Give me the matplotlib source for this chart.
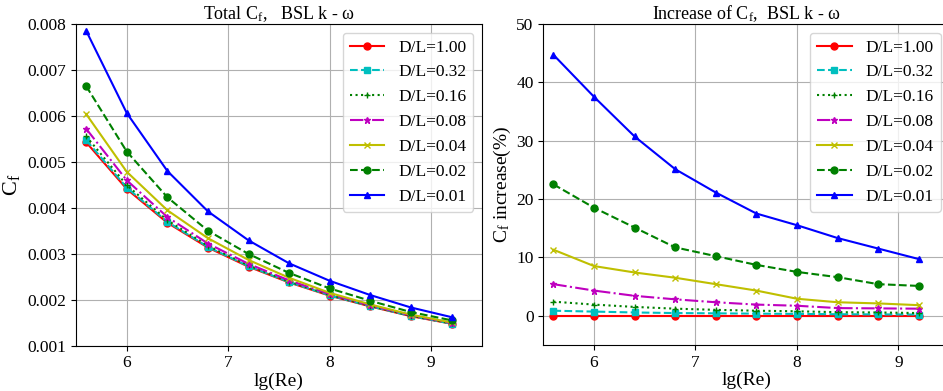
import matplotlib
matplotlib.use('Agg')
import matplotlib.pyplot as plt

plt.rcParams['font.family'] = ['Liberation Serif', 'DejaVu Serif']
plt.rcParams['mathtext.default'] = 'regular'

lg_re = [5.6, 6.0, 6.4, 6.8, 7.2, 7.6, 8.0, 8.4, 8.8, 9.2]
labels = ['D/L=1.00', 'D/L=0.32', 'D/L=0.16', 'D/L=0.08', 'D/L=0.04', 'D/L=0.02', 'D/L=0.01']

# total Cf, BSL k-omega
cf_100 = [0.005425, 0.004407, 0.003673, 0.003133, 0.002717, 0.002374, 0.002087, 0.001853, 0.001641, 0.001477]
cf_032 = [0.005471, 0.004438, 0.003693, 0.003147, 0.002728, 0.002382, 0.002093, 0.001858, 0.001645, 0.001480]
cf_016 = [0.005555, 0.004491, 0.003728, 0.003171, 0.002744, 0.002394, 0.002103, 0.001864, 0.001650, 0.001484]
cf_008 = [0.005718, 0.004597, 0.003798, 0.003221, 0.002779, 0.002419, 0.002122, 0.001877, 0.001662, 0.001495]
cf_004 = [0.006038, 0.004782, 0.003945, 0.003337, 0.002864, 0.002476, 0.002148, 0.001896, 0.001675, 0.001504]
cf_002 = [0.006646, 0.005222, 0.004228, 0.003500, 0.002994, 0.002581, 0.002244, 0.001975, 0.001730, 0.001552]
cf_001 = [0.00785, 0.00606, 0.00480, 0.00392, 0.00329, 0.00279, 0.00241, 0.00210, 0.00183, 0.00162]

# increase of Cf (%)
inc_100 = [0, 0, 0, 0, 0, 0, 0, 0, 0, 0]
inc_032 = [0.85, 0.7, 0.55, 0.45, 0.4, 0.35, 0.3, 0.25, 0.22, 0.2]
inc_016 = [2.4, 1.9, 1.5, 1.2, 1.0, 0.85, 0.75, 0.6, 0.55, 0.45]
inc_008 = [5.4, 4.3, 3.4, 2.8, 2.3, 1.9, 1.7, 1.3, 1.25, 1.2]
inc_004 = [11.3, 8.5, 7.4, 6.5, 5.4, 4.3, 2.9, 2.3, 2.1, 1.8]
inc_002 = [22.5, 18.5, 15.1, 11.7, 10.2, 8.7, 7.5, 6.6, 5.4, 5.1]
inc_001 = [44.7, 37.5, 30.7, 25.1, 21.1, 17.5, 15.5, 13.3, 11.5, 9.7]

styles = [('r', '-', 'o'), ('c', '--', 's'), ('g', ':', '+'), ('m', '-.', '*'),
          ('y', '-', 'x'), ('g', '--', 'o'), ('b', '-', '^')]

fig = plt.figure(figsize=(9.43, 3.91), dpi=100)
ax1 = fig.add_axes([0.0806, 0.116, 0.4305, 0.823])
ax2 = fig.add_axes([0.5761, 0.118, 0.4305, 0.821])

for ys, lab, (c, ls, m) in zip([cf_100, cf_032, cf_016, cf_008, cf_004, cf_002, cf_001], labels, styles):
    ax1.plot(lg_re, ys, color=c, linestyle=ls, marker=m, markersize=5, linewidth=1.5, label=lab)
for ys, lab, (c, ls, m) in zip([inc_100, inc_032, inc_016, inc_008, inc_004, inc_002, inc_001], labels, styles):
    ax2.plot(lg_re, ys, color=c, linestyle=ls, marker=m, markersize=5, linewidth=1.5, label=lab)

ax1.set_xlim(5.5, 9.5)
ax1.set_ylim(0.001, 0.008)
ax1.set_xticks([6, 7, 8, 9])
ax1.set_title('Total C$_f$,   BSL k - ω', fontsize=13, pad=3)
ax1.set_xlabel('lg(Re)', fontsize=14, labelpad=1)
ax1.set_ylabel('C$_f$', fontsize=16, labelpad=4)

ax2.set_xlim(5.5, 9.5)
ax2.set_ylim(-5, 50)
ax2.set_xticks([6, 7, 8, 9])
ax2.set_yticks([0, 10, 20, 30, 40, 50])
ax2.set_title('Increase of C$_f$,  BSL k - ω', fontsize=13, pad=3)
ax2.set_xlabel('lg(Re)', fontsize=14, labelpad=1)
ax2.set_ylabel('C$_f$ increase(%)', fontsize=14, labelpad=2)

for ax in (ax1, ax2):
    ax.grid(True, color='#b0b0b0', linewidth=0.8)
    ax.tick_params(labelsize=12.5)
    ax.legend(loc='upper right', fontsize=12.5, handlelength=2.0)

plt.savefig('out.png', dpi=100)
